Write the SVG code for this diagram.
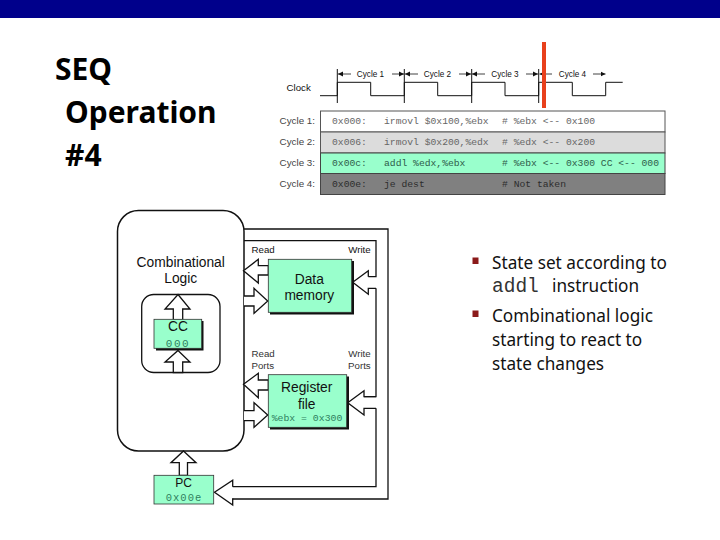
<svg xmlns="http://www.w3.org/2000/svg" width="720" height="540" viewBox="0 0 720 540">
<defs>
<marker id="tick" markerWidth="6" markerHeight="6" refX="5" refY="3" orient="auto-start-reverse" markerUnits="userSpaceOnUse"><path d="M0 0.5L5 3L0 5.5Z" fill="#111"/></marker>
</defs>
<style>
.a{font-family:"Liberation Sans",Arial,sans-serif;fill:#111}
.m{font-family:"Liberation Mono","Courier New",monospace;font-size:9.7px;fill:#666}
.lab{font-size:9.700px}
.cyl{font-size:8.200px}
.row{font-size:9.800px;fill:#444;text-anchor:end}
.big{font-size:13.800px;text-anchor:middle}
.b{font-family:"Noto Sans","Open Sans",sans-serif;font-size:17.200px;fill:#111}
.t{font-family:"Noto Sans","Open Sans",sans-serif;font-weight:700;font-size:30px;fill:#000}
.box{fill:#99ffcc;stroke:#333;stroke-width:.8}
.sh{fill:#111}
.w{fill:none;stroke:#111;stroke-width:1.3}
.ar{fill:#fff;stroke:#111;stroke-width:1.3;stroke-linejoin:miter}
.clk{fill:none;stroke:#111;stroke-width:1}
.cy{stroke:#111;stroke-width:.8;fill:none;marker-end:url(#tick)}
.val{font-family:"Liberation Mono","Courier New",monospace;fill:#2f7f5f;text-anchor:middle}
</style>
<rect width="720" height="540" fill="#fff"/>
<rect width="720" height="18" fill="#00008b"/>
<g id="title">
<text class="t" x="55" y="80">SEQ</text>
<text class="t" x="65" y="123">Operation</text>
<text class="t" x="65" y="166">#4</text>
</g>
<g id="timing">
<text class="a" x="286.500" y="91" font-size="9.700">Clock</text>
<path class="clk" d="M320 95.700H337.300V82.300H370.700V95.700H404.300V82.300H437.700V95.700H471.700V82.300H505V95.700H538.700V82.300H572.300V95.700H605.700V82.300H622.700"/>
<path class="clk" stroke-width=".6" d="M337.300 69V103M404.300 69V103M471.700 69V103M538.700 69V103"/>
<path class="cy" d="M351 74H338"/><path class="cy" d="M392 74H404"/>
<path class="cy" d="M418 74H405"/><path class="cy" d="M459 74H471"/>
<path class="cy" d="M485 74H472"/><path class="cy" d="M526 74H538"/>
<path class="cy" d="M552 74H539.500"/><path class="cy" d="M593 74H605.500"/>
<g class="a cyl" text-anchor="middle">
<text x="370.500" y="77">Cycle 1</text><text x="437.500" y="77">Cycle 2</text><text x="505" y="77">Cycle 3</text><text x="572.500" y="77">Cycle 4</text>
</g>
<rect x="320.500" y="111" width="344.500" height="21" fill="#fff" stroke="#555"/>
<rect x="320.500" y="132" width="344.500" height="21" fill="#dcdcdc" stroke="#555"/>
<rect x="320.500" y="153" width="344.500" height="20.500" fill="#99ffcc" stroke="#444"/>
<rect x="320.500" y="173.500" width="344.500" height="21" fill="#808080" stroke="#444"/>
<g class="a">
<text class="row" x="315" y="124">Cycle 1:</text><text class="row" x="315" y="145">Cycle 2:</text><text class="row" x="315" y="166">Cycle 3:</text><text class="row" x="315" y="187">Cycle 4:</text>
</g>
<g class="m">
<text x="332" y="124">0x000:</text><text x="384" y="124">irmovl $0x100,%ebx</text><text x="502" y="124"># %ebx &lt;-- 0x100</text>
<text x="332" y="145">0x006:</text><text x="384" y="145">irmovl $0x200,%edx</text><text x="502" y="145"># %edx &lt;-- 0x200</text>
<text x="332" y="166" style="fill:#2e5c4a">0x00c:</text><text x="384" y="166" style="fill:#2e5c4a">addl %edx,%ebx</text><text x="502" y="166" style="fill:#2e5c4a"># %ebx &lt;-- 0x300 CC &lt;-- 000</text>
<text x="332" y="187" style="fill:#2c2c2c">0x00e:</text><text x="384" y="187" style="fill:#2c2c2c">je dest</text><text x="502" y="187" style="fill:#2c2c2c"># Not taken</text>
</g>
<rect x="542" y="42" width="4" height="66" fill="#e8401c"/>
</g>
<g id="combinational-logic">
<rect x="117.500" y="210.500" width="126.500" height="240.500" rx="21" fill="#fff" stroke="#111" stroke-width="1.500"/>
<text class="a big" x="180.700" y="267">Combinational</text>
<text class="a big" x="180.700" y="283">Logic</text>
<rect x="141.700" y="294.500" width="78.300" height="78" rx="12" fill="#fff" stroke="#111" stroke-width="1.300"/>
</g>
<g id="connectors">
<path class="w" d="M244 229H388V499H232.700"/>
<path class="w" d="M244 240.700H376V276.700H368.300M376 288.300V396.700H364M376 408.300V486.700H232.700"/>
<path class="ar" d="M178 294.500L190 309H182.700V320H173.300V309H165Z"/>
<path class="ar" d="M178 350.500L190 362H182.700V372.500H173.300V362H165Z"/>
<path class="ar" d="M183.500 451L196 462.700H187.500V475.300H179.300V462.700H171Z"/>
<path class="w" d="M232.700 486.700V480.300L214.500 492.300L232.700 505V498.300"/>
<path class="ar" d="M243.500 270.700L258.300 259.300V265.700H268.300V275H258.300V283Z"/>
<path class="ar" d="M244 296H254V288.300L267.700 301L254 313.300V306H244"/>
<path class="ar" d="M243.500 384.300L258.300 373.300V380H268.300V390H258.300V397.700Z"/>
<path class="ar" d="M244 410.700H254V402.700L267.700 415L254 427.300V420.700H244"/>
<path class="w" d="M368.300 276.700V270.700L352.700 282.300L368.300 294.300V288.300H376"/>
<path class="w" d="M376 396.700H364V390.700L347.700 402.700L364 415V408.300H376"/>
</g>
<g id="data-memory">
<rect class="sh" x="270" y="261" width="84" height="53.500"/>
<rect class="box" x="268.300" y="259.300" width="83.400" height="53"/>
<text class="a big" x="309.300" y="283.500">Data</text>
<text class="a big" x="309.300" y="300">memory</text>
<text class="a lab" x="251.500" y="253">Read</text>
<text class="a lab" x="370.700" y="253" text-anchor="end">Write</text>
</g>
<g id="register-file">
<rect class="sh" x="270" y="376.500" width="79" height="53"/>
<rect class="box" x="268.300" y="374.700" width="78.400" height="52.600"/>
<text class="a big" x="306.700" y="392">Register</text>
<text class="a big" x="306.700" y="408.500">file</text>
<text class="val" x="307" y="421" font-size="9.800">%ebx = 0x300</text>
<text class="a lab" x="251.500" y="357" style="fill:#333">Read</text>
<text class="a lab" x="251.500" y="369" style="fill:#333">Ports</text>
<text class="a lab" x="370.700" y="357" text-anchor="end" style="fill:#333">Write</text>
<text class="a lab" x="370.700" y="369" text-anchor="end" style="fill:#333">Ports</text>
</g>
<g id="cc">
<rect class="sh" x="156" y="321" width="47.500" height="29.500"/>
<rect class="box" x="154" y="319.300" width="47.700" height="29"/>
<text class="a big" x="178" y="331">CC</text>
<text class="val" x="178" y="347" font-size="11" letter-spacing="1.500">000</text>
</g>
<g id="pc">
<rect class="box" x="154" y="475.300" width="59.700" height="28.700"/>
<text class="a" x="183.700" y="487" font-size="12" text-anchor="middle">PC</text>
<text class="val" x="184" y="501" font-size="10.500" letter-spacing="1">0x00e</text>
</g>
<g id="notes">
<rect x="472.500" y="257.500" width="6" height="6.500" fill="#8b1a1a"/>
<rect x="472.500" y="310.500" width="6" height="6.500" fill="#8b1a1a"/>
<text class="b" x="492" y="269">State set according to</text>
<text class="b" x="492" y="292"><tspan font-family="Liberation Mono,monospace" font-size="19.500" fill="#333">addl</tspan></text>
<text class="b" x="552" y="292">instruction</text>
<text class="b" x="492" y="322">Combinational logic</text>
<text class="b" x="492" y="346">starting to react to</text>
<text class="b" x="492" y="370">state changes</text>
</g>
</svg>
